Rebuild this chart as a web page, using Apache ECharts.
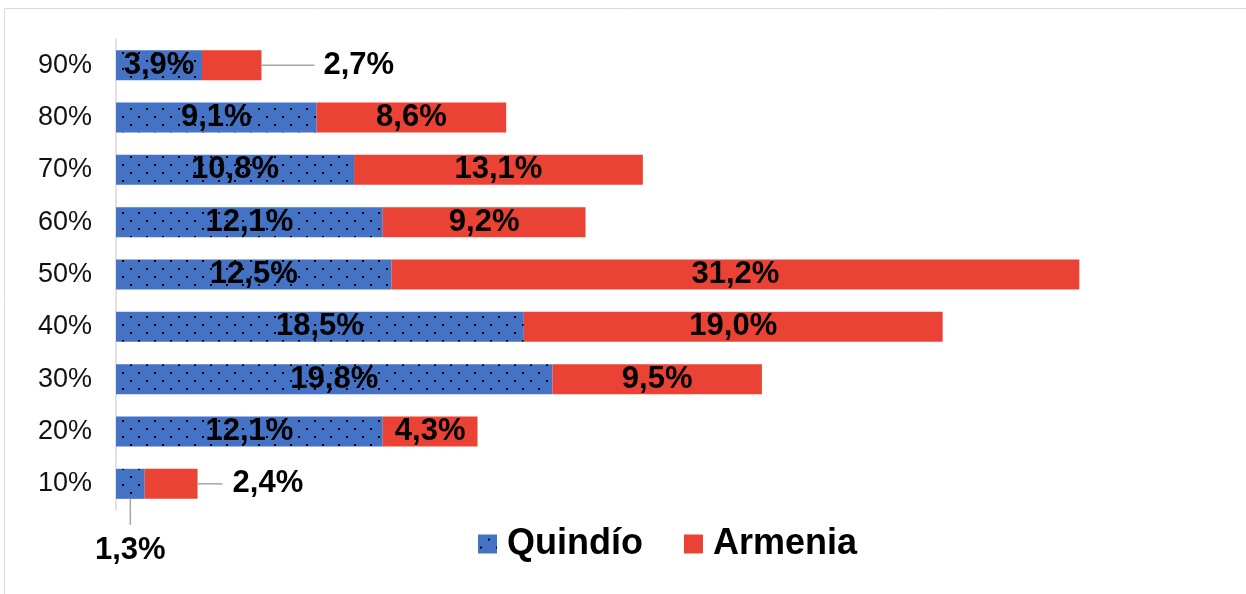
<!DOCTYPE html>
<html>
<head>
<meta charset="utf-8">
<script src="https://cdn.jsdelivr.net/npm/echarts@6/dist/echarts.min.js"></script>
<style>
  html, body { margin: 0; padding: 0; background: #fff; }
  #chart { width: 1246px; height: 594px; }
</style>
</head>
<body>
<div id="chart"></div>
<script>
// ---- data ----
const categories = ['10%', '20%', '30%', '40%', '50%', '60%', '70%', '80%', '90%'];
const quindio = [1.3, 12.1, 19.8, 18.5, 12.5, 12.1, 10.8, 9.1, 3.9];
const armenia = [2.4, 4.3, 9.5, 19.0, 31.2, 9.2, 13.1, 8.6, 2.7];
const seriesNames = ['Quindío', 'Armenia'];

// ---- styles ----
const FONT = "'Liberation Sans', Arial, sans-serif";
const BLUE = '#4472C4';
const RED = '#EA4335';
const LEADER = '#A6A6A6';
const BAR_W = 30;

function dotPattern() {
  const c = document.createElement('canvas');
  c.width = 16; c.height = 16;
  const ctx = c.getContext('2d');
  ctx.fillStyle = BLUE;
  ctx.fillRect(0, 0, 16, 16);
  ctx.fillStyle = '#000';
  ctx.fillRect(2, 12, 2, 2);
  ctx.fillRect(10, 4, 2, 2);
  return c;
}
const pattern = { image: dotPattern(), repeat: 'repeat' };

const fmt = v => v.toFixed(1).replace('.', ',') + '%';

const baseLabel = {
  show: true,
  position: 'inside',
  color: '#000',
  fontFamily: FONT,
  fontWeight: 'bold',
  fontSize: 31,
  formatter: p => fmt(p.value)
};

// outside label overrides (per data item) and their leader-line styles
const quindioOutside = { 0: { position: 'bottom', distance: 36 } };
const armeniaOutside = {
  0: { position: 'right', distance: 35 },
  8: { position: 'right', distance: 62 }
};
const leaderSpecs = [
  { cat: 0, series: 'quindio', dir: 'down', len: 26 },
  { cat: 0, series: 'armenia', dir: 'right', len: 25 },
  { cat: 8, series: 'armenia', dir: 'right', len: 53 }
];

function buildData(values, outside) {
  return values.map((v, i) => outside[i] ? { value: v, label: outside[i] } : { value: v });
}

// leader-line anchor values derived from the data arrays
const leaderData = leaderSpecs.map((s, k) => {
  const xv = s.series === 'quindio' ? quindio[s.cat] / 2 : quindio[s.cat] + armenia[s.cat];
  return [xv, s.cat, k];
});

const chart = echarts.init(document.getElementById('chart'), null, { renderer: 'canvas' });
chart.setOption({
  animation: false,
  backgroundColor: '#fff',
  graphic: [{
    type: 'rect',
    shape: { x: 4.5, y: 8.5, width: 1400, height: 800 },
    style: { fill: 'none', stroke: '#D9D9D9', lineWidth: 1 },
    silent: true,
    z: -1
  }],
  grid: { left: 116, right: 138, top: 39, bottom: 84, containLabel: false },
  legend: {
    data: seriesNames,
    left: 473,
    top: 521,
    icon: 'rect',
    itemWidth: 19,
    itemHeight: 19,
    itemGap: 41,
    textStyle: {
      fontFamily: FONT,
      fontWeight: 'bold',
      fontSize: 36,
      color: '#000',
      padding: [0, 0, 0, 5]
    }
  },
  xAxis: {
    type: 'value',
    min: 0,
    max: 45,
    show: false
  },
  yAxis: {
    type: 'category',
    data: categories,
    axisLine: { show: true, lineStyle: { color: '#D9D9D9', width: 1.5 } },
    axisTick: { show: false },
    axisLabel: {
      margin: 24,
      color: '#111',
      fontFamily: FONT,
      fontSize: 27
    },
    splitLine: { show: false }
  },
  series: [
    {
      name: seriesNames[0],
      type: 'bar',
      stack: 'total',
      barWidth: BAR_W,
      itemStyle: { color: pattern },
      label: baseLabel,
      data: buildData(quindio, quindioOutside)
    },
    {
      name: seriesNames[1],
      type: 'bar',
      stack: 'total',
      barWidth: BAR_W,
      itemStyle: { color: RED },
      label: baseLabel,
      data: buildData(armenia, armeniaOutside)
    },
    {
      name: 'leaders',
      type: 'custom',
      silent: true,
      z: 1,
      encode: { x: 0, y: 1 },
      data: leaderData,
      renderItem: function (params, api) {
        const spec = leaderSpecs[api.value(2)];
        const pt = api.coord([api.value(0), api.value(1)]);
        let shape;
        if (spec.dir === 'right') {
          shape = { x1: pt[0], y1: pt[1], x2: pt[0] + spec.len, y2: pt[1] };
        } else {
          const y0 = pt[1] + BAR_W / 2;
          shape = { x1: pt[0], y1: y0, x2: pt[0], y2: y0 + spec.len };
        }
        return {
          type: 'line',
          shape: shape,
          style: { stroke: LEADER, lineWidth: 1.5 }
        };
      }
    }
  ]
});
</script>
</body>
</html>
